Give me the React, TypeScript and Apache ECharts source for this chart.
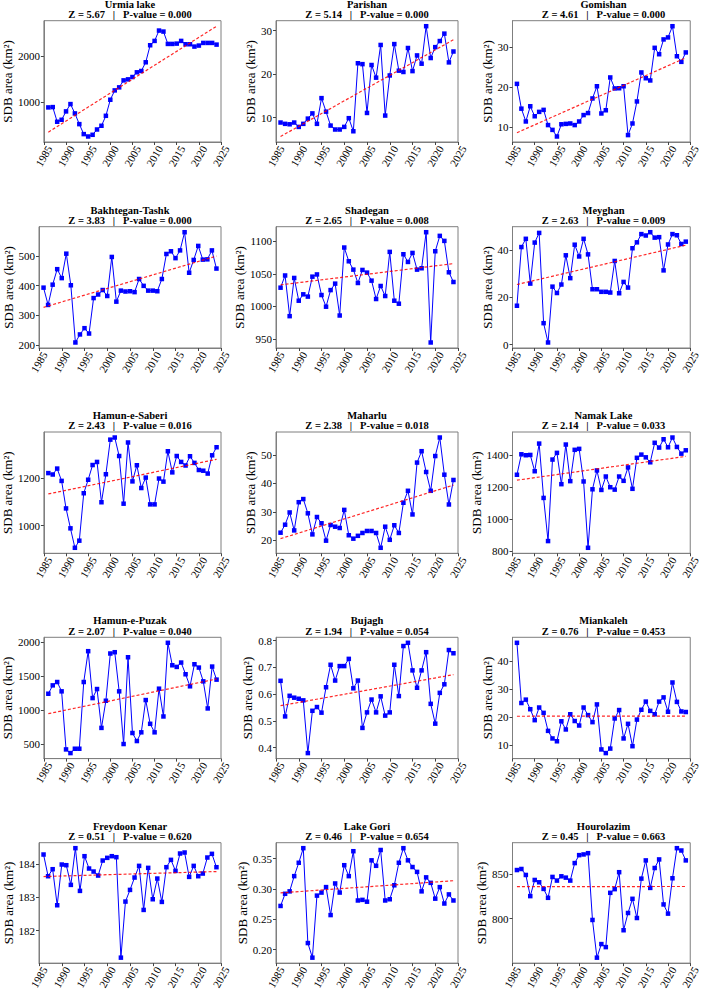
import React, { useEffect, useRef } from "react";
import * as echarts from "echarts";

const years = [1986, 1987, 1988, 1989, 1990, 1991, 1992, 1993, 1994, 1995, 1996, 1997, 1998, 1999, 2000, 2001, 2002, 2003, 2004, 2005, 2006, 2007, 2008, 2009, 2010, 2011, 2012, 2013, 2014, 2015, 2016, 2017, 2018, 2019, 2020, 2021, 2022, 2023, 2024];

const lakeNames = ["Urmia lake", "Parishan", "Gomishan", "Bakhtegan-Tashk", "Shadegan", "Meyghan", "Hamun-e-Saberi", "Maharlu", "Namak Lake", "Hamun-e-Puzak", "Bujagh", "Miankaleh", "Freydoon Kenar", "Lake Gori", "Hourolazim"];
const zValues = ["5.67", "5.14", "4.61", "3.83", "2.65", "2.63", "2.43", "2.38", "2.14", "2.07", "1.94", "0.76", "0.51", "0.46", "0.45"];
const pValues = ["0.000", "0.000", "0.000", "0.000", "0.008", "0.009", "0.016", "0.018", "0.033", "0.040", "0.054", "0.453", "0.620", "0.654", "0.663"];

const urmia = [883, 890, 570, 613, 796, 956, 752, 518, 300, 248, 285, 401, 482, 700, 1051, 1255, 1321, 1474, 1496, 1547, 1650, 1679, 1869, 2241, 2336, 2562, 2540, 2270, 2270, 2277, 2336, 2263, 2263, 2212, 2234, 2292, 2292, 2292, 2255];
const parishan = [8.9, 8.6, 8.5, 8.9, 7.9, 8.6, 9.8, 11.0, 8.6, 14.5, 11.4, 8.2, 7.3, 7.3, 7.9, 9.9, 6.9, 22.5, 22.3, 11.1, 22.1, 19.2, 26.7, 10.5, 19.7, 26.9, 20.8, 20.5, 26.0, 20.7, 24.3, 22.4, 31.0, 23.7, 26.2, 27.6, 29.3, 22.7, 25.2];
const gomishan = [20.9, 14.7, 11.5, 15.3, 12.8, 13.9, 14.4, 10.6, 9.4, 7.75, 10.8, 10.9, 11.0, 10.6, 11.5, 13.1, 13.6, 17.25, 20.3, 13.5, 14.3, 22.5, 19.75, 19.8, 20.3, 8.1, 11.0, 16.5, 23.75, 22.3, 21.75, 29.9, 28.3, 32.0, 32.5, 35.3, 27.8, 26.4, 28.75];
const bakhtegan = [393, 335, 403, 455, 425, 507, 401, 209, 236, 257, 239, 358, 370, 385, 365, 496, 346, 383, 380, 381, 378, 422, 399, 383, 383, 381, 422, 506, 515, 492, 518, 579, 443, 486, 533, 487, 488, 518, 457];
const shadegan = [1028.7, 1047.4, 985, 1043.6, 1008.7, 1018.5, 1015, 1045.6, 1049, 1017.4, 999.5, 1025, 1034.9, 986, 1090.3, 1069.2, 1056.4, 1035.9, 1055.9, 1051.8, 1039.5, 1011.3, 1031.3, 1015.9, 1083.6, 1008.7, 1004.1, 1080, 1068.2, 1082, 1056.4, 1058.5, 1113.8, 944.6, 1084.6, 1108.2, 1100.5, 1052.3, 1037.4];
const meyghan = [16.5, 41.4, 44.9, 25.9, 43.3, 47.4, 9.1, 0.9, 24.6, 21.9, 25.5, 37.9, 28.2, 42.4, 37.4, 44.9, 38.3, 23.5, 23.5, 22.4, 22.4, 22.1, 35.5, 21.8, 26.6, 24.2, 40.9, 43.4, 46.9, 46.3, 47.7, 45.4, 45.6, 31.5, 42.5, 46.9, 46.4, 42.7, 43.7];
const saberi = [1222, 1216, 1241, 1189, 1073, 989, 907, 937, 1137, 1194, 1256, 1269, 1099, 1217, 1363, 1372, 1294, 1093, 1351, 1187, 1255, 1159, 1203, 1090, 1090, 1199, 1186, 1314, 1225, 1294, 1269, 1254, 1293, 1265, 1235, 1232, 1220, 1297, 1331];
const maharlu = [22.7, 25.5, 29.8, 23.5, 33.4, 34.5, 29.5, 22.1, 28.2, 26.0, 19.9, 25.4, 24.8, 24.35, 30.7, 21.8, 20.6, 21.6, 22.6, 23.3, 23.3, 22.6, 17.4, 24.8, 20.2, 25.3, 22.6, 33.2, 37.4, 29.1, 47.3, 51.3, 44.0, 37.4, 49.6, 56.1, 43.05, 32.6, 41.2];
const namak = [1278, 1406, 1400, 1402, 1300, 1473, 1133, 863, 1373, 1415, 1219, 1467, 1238, 1434, 1440, 1236, 821, 1187, 1305, 1183, 1267, 1200, 1185, 1267, 1240, 1324, 1190, 1384, 1404, 1387, 1356, 1478, 1448, 1500, 1450, 1511, 1452, 1410, 1431];
const puzak = [1239, 1362, 1411, 1274, 421, 367, 431, 431, 1411, 1864, 1175, 1308, 737, 1136, 1830, 1849, 1274, 500, 1775, 662, 544, 672, 1146, 797, 672, 1313, 905, 1987, 1657, 1633, 1697, 1525, 1348, 1672, 1623, 1421, 1023, 1638, 1446];
const bujagh = [0.65, 0.517, 0.594, 0.587, 0.583, 0.577, 0.38, 0.538, 0.552, 0.531, 0.626, 0.71, 0.651, 0.705, 0.705, 0.732, 0.622, 0.651, 0.474, 0.532, 0.58, 0.532, 0.592, 0.52, 0.532, 0.71, 0.593, 0.78, 0.792, 0.689, 0.624, 0.689, 0.757, 0.564, 0.49, 0.605, 0.637, 0.765, 0.753];
const miankaleh = [46.5, 25.1, 26.3, 22.9, 19.0, 23.5, 21.6, 15.2, 12.5, 11.5, 18.6, 15.7, 21.1, 18.7, 17.1, 23.5, 20.8, 18.3, 24.6, 8.6, 7.3, 8.9, 19.6, 22.6, 12.5, 17.7, 9.75, 19.2, 22.7, 25.6, 22.3, 21.1, 25.6, 27.1, 22.0, 32.4, 25.5, 22.1, 21.9];
const freydoon = [184.28, 183.63, 183.84, 182.76, 183.98, 183.96, 183.37, 184.47, 183.19, 184.23, 183.86, 183.77, 183.65, 184.1, 184.18, 184.23, 184.2, 181.19, 182.87, 183.22, 183.59, 183.94, 182.62, 183.88, 182.94, 183.56, 182.86, 183.9, 184.12, 183.79, 184.31, 184.34, 183.61, 183.94, 183.63, 183.71, 184.19, 184.3, 183.9];
const gori = [0.272, 0.292, 0.296, 0.321, 0.343, 0.367, 0.211, 0.187, 0.289, 0.294, 0.303, 0.257, 0.309, 0.294, 0.339, 0.321, 0.362, 0.281, 0.282, 0.279, 0.347, 0.338, 0.364, 0.281, 0.283, 0.306, 0.343, 0.367, 0.347, 0.336, 0.328, 0.296, 0.319, 0.31, 0.284, 0.303, 0.276, 0.291, 0.281];
const hourolazim = [854.4, 855.6, 848.9, 825.2, 843.3, 840.7, 833.3, 823.3, 846.7, 842.6, 847.4, 845.9, 842.6, 862.2, 871.1, 871.9, 873.3, 798.5, 756.3, 771.5, 768.1, 828.9, 833.0, 852.0, 787.0, 806.3, 822.2, 800.7, 844.8, 865.2, 834.4, 856.7, 866.3, 815.9, 805.6, 845.2, 878.9, 876.3, 865.2];

const seriesValues = [urmia, parishan, gomishan, bakhtegan, shadegan, meyghan, saberi, maharlu, namak, puzak, bujagh, miankaleh, freydoon, gori, hourolazim];

// Sen's slope trend line end values (1986 and 2024)
const trendStart = [343, 5.7, 8.7, 327, 1033, 25.5, 1134, 20.6, 1244, 946, 0.557, 20.4, 183.62, 0.2935, 835.8];
const trendEnd = [2657, 27.9, 27.4, 499, 1065.6, 42.2, 1280, 39.4, 1393, 1456, 0.673, 20.45, 183.77, 0.3135, 836.0];

const yTickLabels = [
  ["1000", "2000"],
  ["10", "20", "30"],
  ["10", "20", "30"],
  ["200", "300", "400", "500"],
  ["950", "1000", "1050", "1100"],
  ["0", "20", "40"],
  ["1000", "1200"],
  ["20", "30", "40", "50"],
  ["800", "1000", "1200", "1400"],
  ["500", "1000", "1500", "2000"],
  ["0.4", "0.5", "0.6", "0.7", "0.8"],
  ["10", "20", "30", "40"],
  ["182", "183", "184"],
  ["0.20", "0.25", "0.30", "0.35"],
  ["800", "850"],
];
const xTickStart = 1985;
const xTickEnd = 2025;
const xTickStep = 5;

const FONT = "'Liberation Serif', 'Times New Roman', Times, serif";
const COL_LEFT = [39, 276, 512.5];
const ROW_TOP = [20.7, 226.7, 432, 637.3, 842.7];
const PW = 182;
const PH = 121.3;
const TICK_FS = 11;

function buildOption() {
  const grids: any[] = [];
  const xAxes: any[] = [];
  const yAxes: any[] = [];
  const series: any[] = [];
  const graphics: any[] = [];

  lakeNames.forEach((name, i) => {
    const col = i % 3;
    const row = Math.floor(i / 3);
    const left = COL_LEFT[col];
    const top = ROW_TOP[row];
    const vals = seriesValues[i];
    const labels = yTickLabels[i];
    const ticks = labels.map(Number);
    const allV = vals.concat([trendStart[i], trendEnd[i]]);
    const lo = Math.min(...allV);
    const hi = Math.max(...allV);
    const pad = (hi - lo) * 0.05;
    const decimals = labels[0].includes(".") ? labels[0].split(".")[1].length : 0;
    const maxLabelW = Math.max(
      ...labels.map((l) => {
        let w = 0;
        for (const ch of l) w += ch === "." ? 0.25 : 0.5;
        return w * TICK_FS;
      })
    );

    grids.push({
      left,
      top,
      width: PW,
      height: PH,
      show: true,
      borderColor: "#7f7f7f",
      borderWidth: 1,
      backgroundColor: "transparent",
    });

    xAxes.push({
      gridIndex: i,
      type: "value",
      min: xTickStart,
      max: xTickEnd,
      interval: xTickStep,
      axisLine: { show: true, onZero: false, lineStyle: { color: "#7f7f7f", width: 1 } },
      axisTick: { show: true, length: 3, lineStyle: { color: "#444" } },
      axisLabel: {
        rotate: 60,
        align: "center",
        verticalAlign: "middle",
        fontFamily: FONT,
        fontSize: TICK_FS,
        color: "#000",
        margin: 14,
        showMinLabel: true,
        showMaxLabel: true,
        formatter: (v: number) => String(v),
      },
      splitLine: { show: false },
    });

    yAxes.push({
      gridIndex: i,
      type: "value",
      min: lo - pad,
      max: hi + pad,
      axisLine: { show: true, lineStyle: { color: "#7f7f7f", width: 1 } },
      axisTick: { show: true, length: 3, customValues: ticks, lineStyle: { color: "#444" } },
      axisLabel: {
        customValues: ticks,
        fontFamily: FONT,
        fontSize: TICK_FS,
        color: "#000",
        margin: 4,
        formatter: (v: number) => v.toFixed(decimals),
      },
      splitLine: { show: false },
      name: "SDB area (km²)",
      nameLocation: "middle",
      nameRotate: 90,
      nameGap: 6 + maxLabelW,
      nameTextStyle: { fontFamily: FONT, fontSize: 13, color: "#000" },
    });

    series.push({
      type: "line",
      xAxisIndex: i,
      yAxisIndex: i,
      data: years.map((y, k) => [y, vals[k]]),
      symbol: "rect",
      symbolSize: 4.5,
      showSymbol: true,
      itemStyle: { color: "#0000ff" },
      lineStyle: { color: "#0000ff", width: 1 },
      z: 3,
      silent: true,
    });

    series.push({
      type: "line",
      xAxisIndex: i,
      yAxisIndex: i,
      data: [
        [years[0], trendStart[i]],
        [years[years.length - 1], trendEnd[i]],
      ],
      symbol: "none",
      lineStyle: { color: "#ff0000", width: 1.2, type: [3, 2], opacity: 0.85 },
      z: 4,
      silent: true,
    });

    const cx = left + PW / 2;
    graphics.push({
      type: "text",
      x: cx,
      y: top - 16.7,
      style: {
        text: name,
        fontFamily: FONT,
        fontSize: 10.5,
        fontWeight: "bold",
        textAlign: "center",
        textVerticalAlign: "middle",
        fill: "#000",
      },
    });
    graphics.push({
      type: "text",
      x: cx,
      y: top - 6.2,
      style: {
        text: `Z = ${zValues[i]}   |   P-value = ${pValues[i]}`,
        fontFamily: FONT,
        fontSize: 10.5,
        fontWeight: "bold",
        textAlign: "center",
        textVerticalAlign: "middle",
        fill: "#000",
      },
    });
  });

  return {
    animation: false,
    backgroundColor: "#ffffff",
    textStyle: { fontFamily: FONT },
    grid: grids,
    xAxis: xAxes,
    yAxis: yAxes,
    series,
    graphic: { elements: graphics },
  };
}

export default function App() {
  const ref = useRef<HTMLDivElement>(null);
  useEffect(() => {
    if (!ref.current) return;
    const chart = echarts.init(ref.current, null, { renderer: "svg" });
    chart.setOption(buildOption() as any);
    return () => {
      chart.dispose();
    };
  }, []);
  return (
    <div
      ref={ref}
      style={{ position: "absolute", left: 0, top: 0, width: 702, height: 992, background: "#fff" }}
    />
  );
}
